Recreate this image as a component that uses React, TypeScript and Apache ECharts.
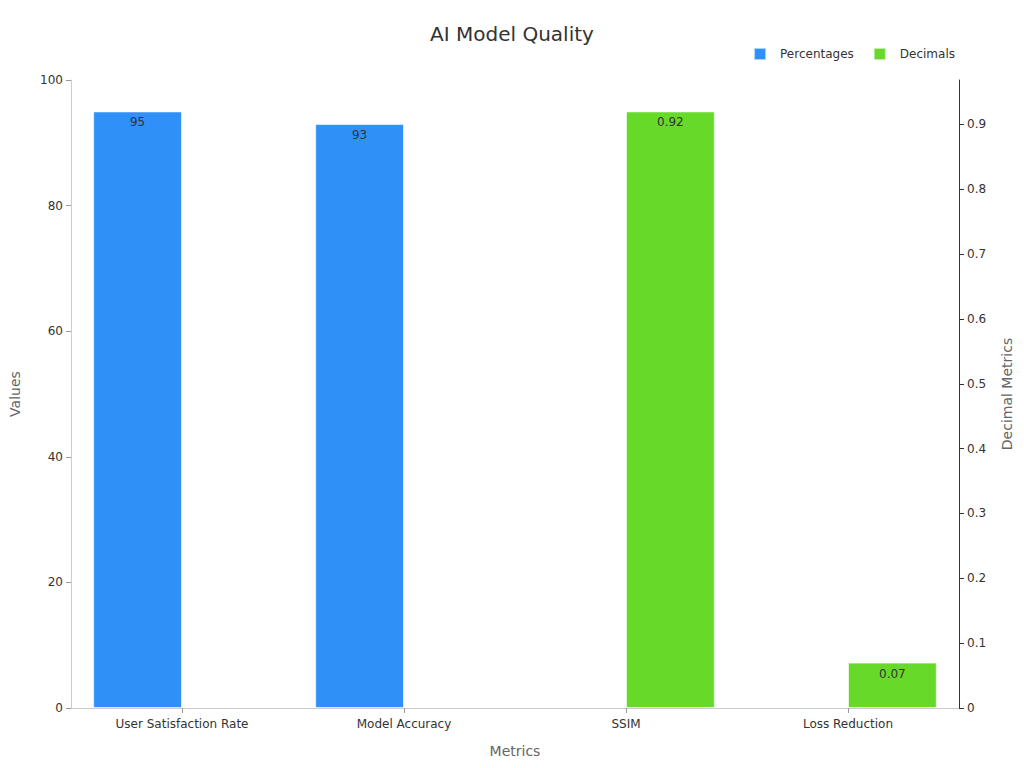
import React, { useEffect, useRef } from "react";
import * as echarts from "echarts";

const categories = ["User Satisfaction Rate", "Model Accuracy", "SSIM", "Loss Reduction"];
const percentageValues: (number | string)[] = [95, 93, "-", "-"];
const decimalValues: (number | string)[] = ["-", "-", 0.92, 0.07];
const leftTicks = [0, 20, 40, 60, 80, 100];
const rightTicks = [0, 0.1, 0.2, 0.3, 0.4, 0.5, 0.6, 0.7, 0.8, 0.9];
const rightMax = 0.92 / 0.95;

const BLUE = "#2f91f7";
const GREEN = "#67da29";
const FONT = "DejaVu Sans";

export default function App() {
  const ref = useRef<HTMLDivElement>(null);
  useEffect(() => {
    document.body.style.margin = "0";
    if (!ref.current) return;
    const chart = echarts.init(ref.current, undefined, { renderer: "svg" });
    chart.setOption({
      animation: false,
      backgroundColor: "#ffffff",
      textStyle: { fontFamily: FONT },
      title: {
        text: "AI Model Quality",
        left: "center",
        top: 19,
        textStyle: { fontSize: 20, fontWeight: "normal", color: "#333", fontFamily: FONT },
      },
      legend: {
        right: 64,
        top: 42,
        icon: "rect",
        itemWidth: 12,
        itemHeight: 12,
        itemGap: 19,
        textStyle: { fontSize: 12, color: "#333", fontFamily: FONT, padding: [0, 0, 0, 9] },
        data: ["Percentages", "Decimals"],
      },
      grid: { left: 68, right: 65, top: 80, bottom: 60, containLabel: false },
      xAxis: {
        type: "category",
        data: categories,
        name: "Metrics",
        nameLocation: "middle",
        nameGap: 36,
        nameTextStyle: { fontSize: 14, color: "#666", fontFamily: FONT },
        axisLine: { show: true, lineStyle: { color: "#ccc" } },
        axisTick: { show: true, alignWithLabel: true, lineStyle: { color: "#999" } },
        axisLabel: { fontSize: 12, color: "#333", fontFamily: FONT, margin: 10 },
      },
      yAxis: [
        {
          type: "value",
          min: 0,
          max: 100,
          interval: 20,
          name: "Values",
          nameLocation: "middle",
          nameRotate: 90,
          nameGap: 49,
          nameTextStyle: { fontSize: 14, color: "#666", fontFamily: FONT },
          axisLine: { show: true, lineStyle: { color: "#ccc" } },
          axisTick: { show: true, lineStyle: { color: "#999" } },
          axisLabel: { fontSize: 12, color: "#333", fontFamily: FONT, customValues: leftTicks },
          splitLine: { show: false },
        },
        {
          type: "value",
          min: 0,
          max: rightMax,
          interval: 0.1,
          position: "right",
          name: "Decimal Metrics",
          nameLocation: "middle",
          nameRotate: 90,
          nameGap: 41,
          nameTextStyle: { fontSize: 14, color: "#666", fontFamily: FONT },
          axisLine: { show: true, lineStyle: { color: "#333" } },
          axisTick: { show: true, customValues: rightTicks, lineStyle: { color: "#333" } },
          axisLabel: { fontSize: 12, color: "#333", fontFamily: FONT, customValues: rightTicks },
          splitLine: { show: false },
        },
      ],
      series: [
        {
          name: "Percentages",
          type: "bar",
          yAxisIndex: 0,
          data: percentageValues,
          barWidth: "40%",
          barGap: "0%",
          itemStyle: { color: BLUE, borderColor: "rgba(255,255,255,0.6)", borderWidth: 1 },
          label: { show: true, position: "insideTop", fontSize: 12, color: "#333", fontFamily: FONT, distance: 5 },
        },
        {
          name: "Decimals",
          type: "bar",
          yAxisIndex: 1,
          data: decimalValues,
          barWidth: "40%",
          barGap: "0%",
          itemStyle: { color: GREEN, borderColor: "rgba(255,255,255,0.6)", borderWidth: 1 },
          label: { show: true, position: "insideTop", fontSize: 12, color: "#333", fontFamily: FONT, distance: 5 },
        },
      ],
    });
    return () => chart.dispose();
  }, []);
  return <div ref={ref} style={{ width: 1024, height: 768 }} />;
}
